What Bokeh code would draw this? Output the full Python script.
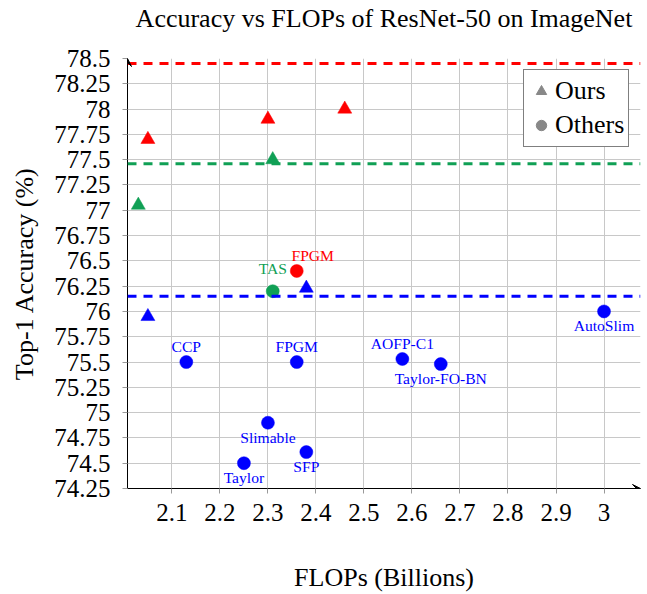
from bokeh.plotting import figure
from bokeh.models import (Range1d, FixedTicker, Span, Legend, LegendItem,
                          ColumnDataSource, LabelSet, LinearAxis, Arrow, VeeHead)
from bokeh.embed import file_html
from bokeh.resources import INLINE

# ---------------- data ----------------
TITLE = "Accuracy vs FLOPs of ResNet-50 on ImageNet"
X_LABEL = "FLOPs (Billions)"
Y_LABEL = "Top-1 Accuracy (%)"

X_TICKS = [2.1, 2.2, 2.3, 2.4, 2.5, 2.6, 2.7, 2.8, 2.9, 3.0]
X_TICK_LABELS = ["2.1", "2.2", "2.3", "2.4", "2.5", "2.6", "2.7", "2.8", "2.9", "3"]
Y_TICKS = [74.25, 74.5, 74.75, 75.0, 75.25, 75.5, 75.75, 76.0, 76.25,
           76.5, 76.75, 77.0, 77.25, 77.5, 77.75, 78.0, 78.25, 78.5]
Y_TICK_LABELS = ["74.25", "74.5", "74.75", "75", "75.25", "75.5", "75.75", "76",
                 "76.25", "76.5", "76.75", "77", "77.25", "77.5", "77.75", "78",
                 "78.25", "78.5"]

X_MIN, X_MAX = 2.0075, 3.076
Y_MIN, Y_MAX = 74.25, 78.5

# Ours (triangles)
OURS_RED_X = [2.05, 2.30, 2.46]
OURS_RED_Y = [77.70, 77.90, 78.00]
OURS_GREEN_X = [2.03, 2.31]
OURS_GREEN_Y = [77.05, 77.50]
OURS_BLUE_X = [2.05, 2.38]
OURS_BLUE_Y = [75.95, 76.23]

# Others (circles)
OTHERS_NAMES = ["CCP", "FPGM", "Slimable", "SFP", "Taylor", "AOFP-C1",
                "Taylor-FO-BN", "AutoSlim", "TAS", "FPGM"]
OTHERS_X = [2.13, 2.36, 2.30, 2.38, 2.25, 2.58, 2.66, 3.00, 2.31, 2.36]
OTHERS_Y = [75.50, 75.50, 74.90, 74.61, 74.50, 75.53, 75.48, 76.00, 76.20, 76.40]
OTHERS_GROUP = ["blue", "blue", "blue", "blue", "blue", "blue", "blue", "blue",
                "green", "red"]

# Baselines (dashed lines)
BASELINE_GROUP = ["red", "green", "blue"]
BASELINE_Y = [78.45, 77.46, 76.15]

LEGEND_LABELS = ["Ours", "Others"]

# ---------------- style ----------------
COLORS = {"red": "#ff0000", "green": "#10a055", "blue": "#0000ff"}
FONT = "Liberation Serif"
LABEL_SIDE = ["above", "above", "below", "below", "below", "above",
              "below", "below", "above", "above"]
LABEL_NUDGE = {8: (0, 7), 9: (16, 0)}   # extra pixel offsets by point index

p = figure(width=647, height=594, output_backend="svg", toolbar_location=None,
           x_range=Range1d(X_MIN, X_MAX), y_range=Range1d(Y_MIN, Y_MAX),
           min_border_left=127, min_border_right=7, min_border_top=58,
           min_border_bottom=106)
p.outline_line_color = None
p.background_fill_color = "white"
p.title.text = ""

xax = p.below[0]
yax = p.left[0]

# axes
for ax, ticks, labels in ((xax, X_TICKS, X_TICK_LABELS),
                          (yax, Y_TICKS, Y_TICK_LABELS)):
    ax.ticker = FixedTicker(ticks=ticks)
    ax.major_label_overrides = {t: l for t, l in zip(ticks, labels)}
    ax.major_label_text_font = FONT
    ax.major_label_text_font_size = "25px"
    ax.major_label_text_color = "black"
    ax.axis_label_text_font = FONT
    ax.axis_label_text_font_size = "26px"
    ax.axis_label_text_font_style = "normal"
    ax.axis_label_text_color = "black"
    ax.axis_line_color = "black"
    ax.axis_line_width = 1
    ax.major_tick_in = 0
    ax.major_tick_out = 5
    ax.major_tick_line_color = "#999999"
    ax.minor_tick_line_color = None

xax.axis_label = X_LABEL
yax.axis_label = Y_LABEL
xax.major_label_standoff = 10
xax.axis_label_standoff = 39
yax.major_label_standoff = 12
yax.axis_label_standoff = 12

p.xgrid.grid_line_color = "#c8c8c8"
p.ygrid.grid_line_color = "#c8c8c8"

# title: drawn as the label of a bare axis above the frame
title_axis = LinearAxis(axis_label=TITLE, ticker=FixedTicker(ticks=[]),
                        axis_line_color=None, major_tick_line_color=None,
                        minor_tick_line_color=None, major_tick_out=0,
                        major_tick_in=0,
                        major_label_standoff=0, major_label_text_font_size="0px",
                        axis_label_standoff=26, axis_label_text_font=FONT,
                        axis_label_text_font_size="26px",
                        axis_label_text_font_style="normal",
                        axis_label_text_color="black")
p.add_layout(title_axis, "above")

# baselines
for g, yv in zip(BASELINE_GROUP, BASELINE_Y):
    p.add_layout(Span(location=yv, dimension="width", line_color=COLORS[g],
                      line_width=3, line_dash="9 7"))

# ours
for g, xs, ys in (("red", OURS_RED_X, OURS_RED_Y),
                  ("green", OURS_GREEN_X, OURS_GREEN_Y),
                  ("blue", OURS_BLUE_X, OURS_BLUE_Y)):
    p.scatter(xs, ys, marker="triangle", size=14, fill_color=COLORS[g],
              line_color=COLORS[g], line_width=0.5)

# others
cols = [COLORS[g] for g in OTHERS_GROUP]
p.scatter(OTHERS_X, OTHERS_Y, marker="circle", size=13, fill_color=cols,
          line_color=cols, line_width=0.5)

# point labels
for side in ("above", "below"):
    idx = [i for i, s in enumerate(LABEL_SIDE) if s == side]
    xo = [LABEL_NUDGE.get(i, (0, 0))[0] for i in idx]
    base_y = 10 if side == "above" else -6
    yo = [base_y + LABEL_NUDGE.get(i, (0, 0))[1] for i in idx]
    src = ColumnDataSource(dict(
        x=[OTHERS_X[i] for i in idx], y=[OTHERS_Y[i] for i in idx],
        t=[OTHERS_NAMES[i] for i in idx], c=[cols[i] for i in idx],
        xo=xo, yo=yo))
    p.add_layout(LabelSet(x="x", y="y", text="t", source=src,
                          x_offset="xo", y_offset="yo", text_color="c",
                          text_font=FONT, text_font_size="15.6px",
                          text_align="center",
                          text_baseline="alphabetic" if side == "above" else "top"))

# axis arrows
p.add_layout(Arrow(end=VeeHead(size=8, fill_color="black", line_color="black",
                               line_width=1),
                   x_start=X_MIN, y_start=Y_MAX - 0.1, x_end=X_MIN, y_end=Y_MAX,
                   line_color="black", line_width=1))
p.add_layout(Arrow(end=VeeHead(size=8, fill_color="black", line_color="black",
                               line_width=1),
                   x_start=X_MAX - 0.03, y_start=Y_MIN, x_end=X_MAX, y_end=Y_MIN,
                   line_color="black", line_width=1))

# legend (gray markers)
NAN = float("nan")
r_ours = p.scatter([NAN], [NAN], marker="triangle", size=14, fill_color="#888888",
                   line_color="#888888")
r_others = p.scatter([NAN], [NAN], marker="circle", size=13, fill_color="#888888",
                     line_color="#888888")
legend = Legend(items=[LegendItem(label=LEGEND_LABELS[0], renderers=[r_ours]),
                       LegendItem(label=LEGEND_LABELS[1], renderers=[r_others])],
                location=(396, 341), orientation="vertical",
                label_text_font=FONT, label_text_font_size="26px",
                label_text_color="black",
                glyph_width=26, glyph_height=34, label_height=34,
                label_standoff=1, spacing=0, padding=4, margin=0,
                border_line_color="black", border_line_width=1,
                background_fill_color="white", background_fill_alpha=1)
p.add_layout(legend)

open("out.html", "w").write(file_html(p, INLINE))
